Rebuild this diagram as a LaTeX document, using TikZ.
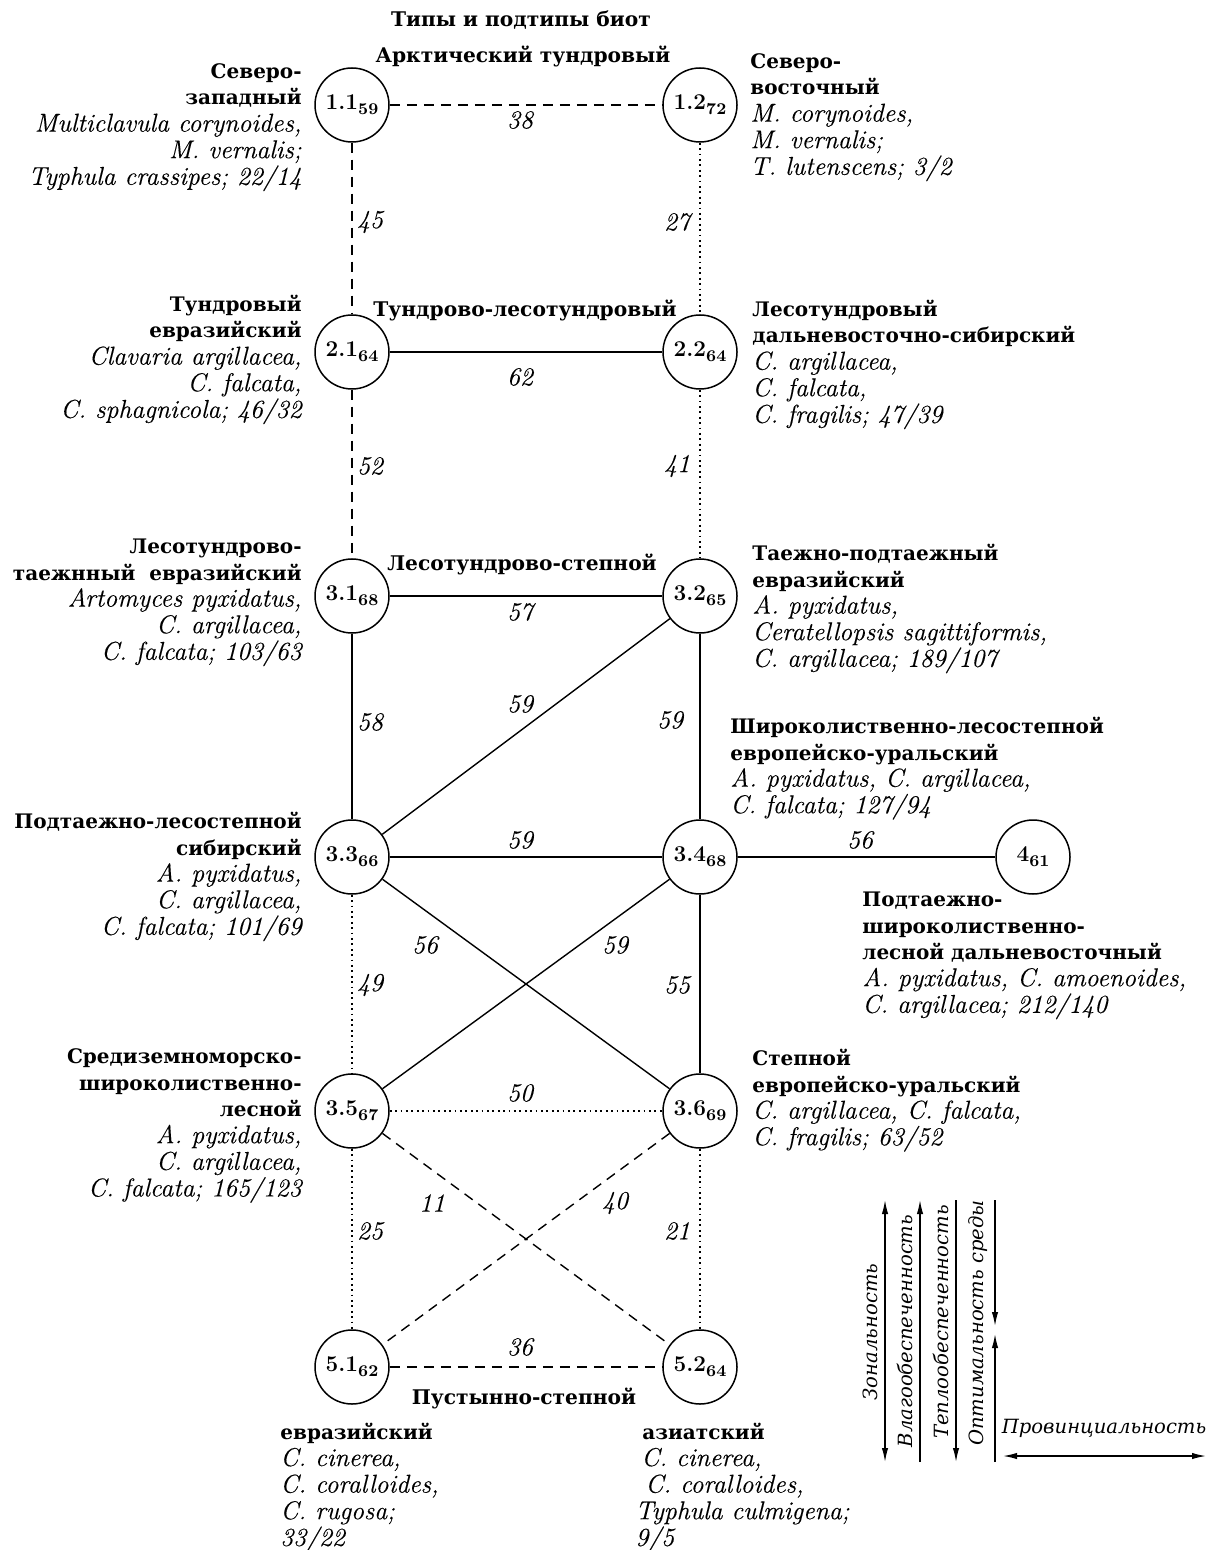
\documentclass[tikz,border=0pt]{standalone}
\usepackage{fontspec}
\newfontfamily\cyr{DejaVu Serif}
\newfontfamily\lmit{lmroman12-italic.otf}[FakeBold=0.3]
\usetikzlibrary{arrows.meta}
\newcommand\bcy[1]{{\cyr\bfseries\upshape\fontsize{10pt}{13.3pt}\selectfont #1}}
\newcommand\mystrut{\rule{0pt}{11pt}}
\newcommand\nd[2]{#1\raisebox{-2.6pt}{\fontsize{8.2pt}{8pt}\selectfont #2}}
\tikzset{
  bio/.style={circle, draw, line width=0.75pt, minimum size=37pt, inner sep=0pt,
    font=\bfseries\fontsize{11.3pt}{12pt}\selectfont},
  solidc/.style={line width=0.7pt},
  dsh/.style={line width=0.7pt, dash pattern=on 5pt off 3.5pt},
  dtt/.style={line width=0.9pt, dash pattern=on 0.9pt off 1.8pt},
  el/.style={font=\lmit\fontsize{12.9pt}{13.3pt}\selectfont, inner sep=0pt},
  txt/.style={font=\lmit\fontsize{12.9pt}{13.3pt}\selectfont, inner sep=0pt},
  ttl/.style={font=\cyr\bfseries\fontsize{10.1pt}{13pt}\selectfont, inner sep=0pt, anchor=base},
  lg/.style={font=\cyr\itshape\fontsize{9.8pt}{12pt}\selectfont, inner sep=0pt},
  arr/.style={line width=0.7pt},
  tip/.tip={Latex[length=7pt,width=3.2pt]}
}
\begin{document}
\begin{tikzpicture}[x=0.5pt,y=-0.5pt]
\useasboundingbox (0,0) rectangle (1208,1550);

% titles
\node[ttl] (title) at (521,27) {Типы и подтипы биот};
\node[ttl] (t1) at (523,63) {Арктический тундровый};
\node[ttl] (t2) at (525,317) {Тундрово-лесотундровый};
\node[ttl] (t3) at (522,570) {Лесотундрово-степной};
\node[ttl] (t5) at (524,1404) {Пустынно-степной};

% biota nodes
\node[bio] (n11) at (352,105) {\nd{1.1}{59}};
\node[bio] (n12) at (700,105) {\nd{1.2}{72}};
\node[bio] (n21) at (352,352) {\nd{2.1}{64}};
\node[bio] (n22) at (700,352) {\nd{2.2}{64}};
\node[bio] (n31) at (352,596) {\nd{3.1}{68}};
\node[bio] (n32) at (700,596) {\nd{3.2}{65}};
\node[bio] (n33) at (352,857) {\nd{3.3}{66}};
\node[bio] (n34) at (700,857) {\nd{3.4}{68}};
\node[bio] (n4)  at (1033,857) {\nd{4}{61}};
\node[bio] (n35) at (352,1111) {\nd{3.5}{67}};
\node[bio] (n36) at (700,1111) {\nd{3.6}{69}};
\node[bio] (n51) at (352,1367) {\nd{5.1}{62}};
\node[bio] (n52) at (700,1367) {\nd{5.2}{64}};

% connectors
\draw[dsh] (n11) -- (n12);
\draw[dsh] (n11) -- (n21);
\draw[dtt] (n12) -- (n22);
\draw[solidc] (n21) -- (n22);
\draw[dsh] (n21) -- (n31);
\draw[dtt] (n22) -- (n32);
\draw[solidc] (n31) -- (n32);
\draw[solidc] (n31) -- (n33);
\draw[solidc] (n32) -- (n33);
\draw[solidc] (n32) -- (n34);
\draw[solidc] (n33) -- (n34);
\draw[solidc] (n34) -- (n4);
\draw[dtt] (n33) -- (n35);
\draw[solidc] (n33) -- (n36);
\draw[solidc] (n34) -- (n35);
\draw[solidc] (n34) -- (n36);
\draw[dtt] (n35) -- (n36);
\draw[dtt] (n35) -- (n51);
\draw[dsh] (n35) -- (n52);
\draw[dsh] (n36) -- (n51);
\draw[dtt] (n36) -- (n52);
\draw[dsh] (n51) -- (n52);

% connector labels
\node[el] (l38) at (520,120) {38};
\node[el] (l45) at (370,222) {45};
\node[el] (l27) at (677,222) {27};
\node[el] (l62) at (520,377) {62};
\node[el] (l52) at (370,466) {52};
\node[el] (l41) at (677,466) {41};
\node[el] (l57) at (520,612) {57};
\node[el] (l58) at (370,722) {58};
\node[el] (l59a) at (520,704) {59};
\node[el] (l59b) at (670,720) {59};
\node[el] (l59c) at (520,840) {59};
\node[el] (l56a) at (860,840) {56};
\node[el] (l56b) at (425,945) {56};
\node[el] (l59d) at (615,945) {59};
\node[el] (l49) at (370,985) {49};
\node[el] (l55) at (677,985) {55};
\node[el] (l50) at (520,1093) {50};
\node[el] (l11) at (432,1203) {11};
\node[el] (l40) at (615,1203) {40};
\node[el] (l25) at (370,1231) {25};
\node[el] (l21) at (677,1231) {21};
\node[el] (l36) at (520,1347) {36};

% left descriptions
\node[txt, align=right, anchor=north east] (d11) at (302,56)
 {\mystrut\bcy{Северо-}\\ \bcy{западный}\\ Multiclavula corynoides,\\ M. vernalis;\\ Typhula crassipes; 22/14};
\node[txt, align=right, anchor=north east] (d21) at (302,289)
 {\mystrut\bcy{Тундровый}\\ \bcy{евразийский}\\ Clavaria argillacea,\\ C. falcata,\\ C. sphagnicola; 46/32};
\node[txt, align=right, anchor=north east] (d31) at (302,531)
 {\mystrut\bcy{Лесотундрово-}\\ \bcy{таежнный\ \ евразийский}\\ Artomyces pyxidatus,\\ C. argillacea,\\ C. falcata; 103/63};
\node[txt, align=right, anchor=north east] (d33) at (302,806)
 {\mystrut\bcy{Подтаежно-лесостепной}\\ \bcy{сибирский}\\ A. pyxidatus,\\ C. argillacea,\\ C. falcata; 101/69};
\node[txt, align=right, anchor=north east] (d35) at (302,1041)
 {\mystrut\bcy{Средиземноморско-}\\ \bcy{широколиственно-}\\ \bcy{лесной}\\ A. pyxidatus,\\ C. argillacea,\\ C. falcata; 165/123};

% right descriptions
\node[txt, align=left, anchor=north west] (d12) at (750,46)
 {\mystrut\bcy{Северо-}\\ \bcy{восточный}\\ M. corynoides,\\ M. vernalis;\\ T. lutenscens;\ 3/2};
\node[txt, align=left, anchor=north west] (d22) at (752,294)
 {\mystrut\bcy{Лесотундровый}\\ \bcy{дальневосточно-сибирский}\\ C. argillacea,\\ C. falcata,\\ C. fragilis; 47/39};
\node[txt, align=left, anchor=north west] (d32) at (752,538)
 {\mystrut\bcy{Таежно-подтаежный}\\ \bcy{евразийский}\\ A. pyxidatus,\\ Ceratellopsis sagittiformis,\\ C. argillacea; 189/107};
\node[txt, align=left, anchor=north west] (d34) at (730,711)
 {\mystrut\bcy{Широколиственно-лесостепной}\\ \bcy{европейско-уральский}\\ A. pyxidatus, C. argillacea,\\ C. falcata; 127/94};
\node[txt, align=left, anchor=north west] (d4) at (862,884)
 {\mystrut\bcy{Подтаежно-}\\ \bcy{широколиственно-}\\ \bcy{лесной\ дальневосточный}\\ A. pyxidatus, C. amoenoides,\\ C. argillacea; 212/140};
\node[txt, align=left, anchor=north west] (d36) at (752,1043)
 {\mystrut\bcy{Степной}\\ \bcy{европейско-уральский}\\ C. argillacea, C. falcata,\\ C. fragilis; 63/52};

% bottom descriptions
\node[txt, align=left, anchor=north west] (d51) at (280,1417)
 {\mystrut\bcy{евразийский}\\ C. cinerea,\\ C. coralloides,\\ C. rugosa;\\ 33/22};
\node[txt, align=left, anchor=north west] (d52) at (635,1417)
 {\mystrut\hspace*{3.5pt}\bcy{азиатский}\\ \hspace*{3pt}C. cinerea,\\ \hspace*{5pt}C. coralloides,\\ Typhula culmigena;\\ 9/5};

% legend
\coordinate (a1t) at (885,1200); \coordinate (a1b) at (885,1462);
\coordinate (a2t) at (920,1200); \coordinate (a2b) at (920,1462);
\coordinate (a3t) at (956,1200); \coordinate (a3b) at (956,1462);
\coordinate (a4t) at (995,1200); \coordinate (a4m) at (995,1326);
\coordinate (a4n) at (995,1334); \coordinate (a4b) at (995,1462);
\coordinate (hl) at (1003,1456); \coordinate (hr) at (1206,1456);
\draw[arr, tip-tip] (a1t) -- (a1b);
\draw[arr, -tip] (a2b) -- (a2t);
\draw[arr, -tip] (a3t) -- (a3b);
\draw[arr, -tip] (a4t) -- (a4m);
\draw[arr, -tip] (a4b) -- (a4n);
\draw[arr, tip-tip] (hl) -- (hr);
\node[lg, rotate=90, anchor=base] (lz) at (877,1332) {Зональность};
\node[lg, rotate=90, anchor=base] (lv) at (912,1331) {Влагообеспеченность};
\node[lg, rotate=90, anchor=base] (lt) at (948,1322) {Теплообеспеченность};
\node[lg, rotate=90, anchor=base] (lo) at (983,1323) {Оптимальность среды};
\node[lg, anchor=base] (lp) at (1104,1433) {Провинциальность};
\end{tikzpicture}
\end{document}
